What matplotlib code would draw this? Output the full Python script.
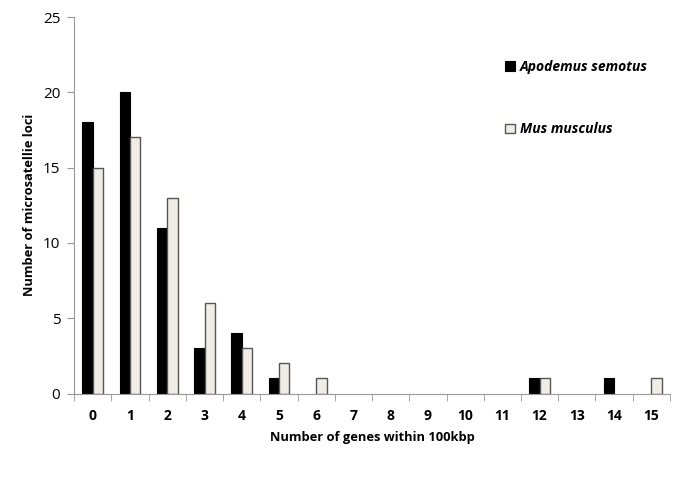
import matplotlib.pyplot as plt
import numpy as np

# number of genes within 100kbp (categories)
genes = ['0', '1', '2', '3', '4', '5', '6', '7', '8', '9', '10', '11', '12', '13', '14', '15']
apodemus = [18, 20, 11, 3, 4, 1, 0, 0, 0, 0, 0, 0, 1, 0, 1, 0]
mus = [15, 17, 13, 6, 3, 2, 1, 0, 0, 0, 0, 0, 1, 0, 0, 1]

plt.rcParams['font.family'] = ['Open Sans', 'DejaVu Sans']

fig = plt.figure(figsize=(7, 4.83), dpi=100)
ax = fig.add_axes([0.106, 0.1853, 0.851, 0.7795])

x = np.arange(len(genes))
w = 0.28
# no outline for empty bars, like the original
lw1 = [0.8 if v > 0 else 0 for v in apodemus]
lw2 = [1.0 if v > 0 else 0 for v in mus]
ax.bar(x - w / 2, apodemus, w, color='black', edgecolor='black', linewidth=lw1,
       label='Apodemus semotus')
ax.bar(x + w / 2, mus, w, color='#f0ede6', edgecolor='#555555', linewidth=lw2,
       label='Mus musculus')

ax.set_xlim(-0.5, len(genes) - 0.5)
ax.set_ylim(0, 25)
ax.set_yticks([0, 5, 10, 15, 20, 25])
ax.set_xticks(x)
ax.set_xticklabels(genes, fontweight='bold', fontsize=10)
ax.set_xticks(np.arange(-0.5, len(genes)), minor=True)
ax.tick_params(axis='x', which='major', length=0, pad=11)
ax.tick_params(axis='x', which='minor', length=5, color='#999999', direction='out')
ax.tick_params(axis='y', length=5, color='#999999', labelsize=11, pad=5)

for s in ['top', 'right']:
    ax.spines[s].set_visible(False)
for s in ['left', 'bottom']:
    ax.spines[s].set_color('#999999')

ax.set_xlabel('Number of genes within 100kbp', fontweight='bold', fontsize=9.3, labelpad=6)
ax.set_ylabel('Number of microsatellie loci', fontweight='bold', fontsize=9.3, labelpad=5)

ax.legend(loc='upper left', bbox_to_anchor=(0.702, 0.92), frameon=False,
          handlelength=0.7, handleheight=0.7, handletextpad=0.4,
          labelspacing=3.5, prop={'weight': 'bold', 'style': 'italic', 'size': 10})

plt.savefig('out.png', dpi=100)
